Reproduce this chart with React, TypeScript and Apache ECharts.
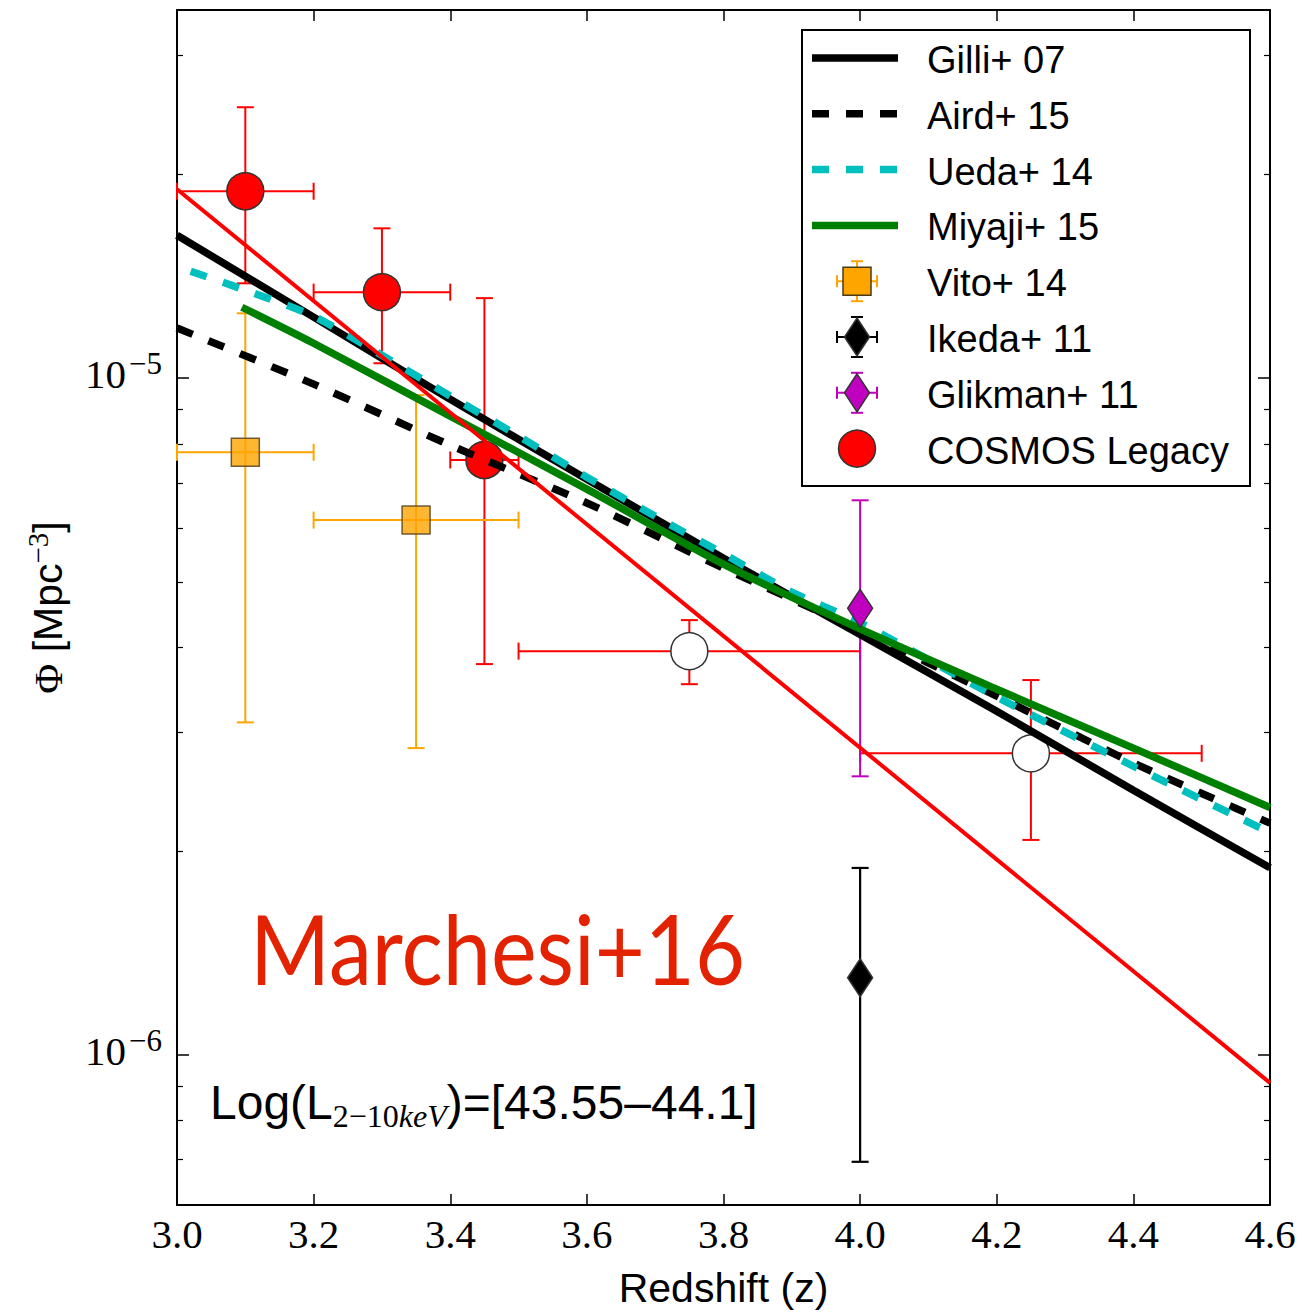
import React, { useEffect, useRef } from 'react';
import * as echarts from 'echarts';

// ---- axis ranges and ticks ----
const Z_MIN = 3.0;
const Z_MAX = 4.6;
const Z_STEP = 0.2;
const PHI_MIN = 6.0e-7;
const PHI_MAX = 3.5e-5;
const phiMajorTicks = [1e-6, 1e-5];
const phiMinorTicks = [
  7e-7, 8e-7, 9e-7,
  2e-6, 3e-6, 4e-6, 5e-6, 6e-6, 7e-6, 8e-6, 9e-6,
  2e-5, 3e-5,
];

// ---- model curves (space density vs redshift) ----
const gilliZ = [3.0, 3.2, 3.4, 3.6, 3.8, 4.0, 4.2, 4.4, 4.6];
const gilli07 = [1.626e-5, 1.231e-5, 9.31e-6, 7.09e-6, 5.42e-6, 4.18e-6, 3.22e-6, 2.46e-6, 1.89e-6];

const airdZ = [3.0, 3.2, 3.4, 3.6, 3.8, 4.0, 4.2, 4.4, 4.6];
const aird15 = [1.186e-5, 9.8e-6, 7.96e-6, 6.54e-6, 5.24e-6, 4.24e-6, 3.39e-6, 2.7e-6, 2.2e-6];

const uedaZ = [3.02, 3.1, 3.2, 3.3, 3.4, 3.5, 3.6, 3.7, 3.8, 3.9, 4.0, 4.2, 4.4, 4.6];
const ueda14 = [1.439e-5, 1.349e-5, 1.235e-5, 1.081e-5, 9.41e-6, 8.21e-6, 7.14e-6, 6.25e-6, 5.5e-6, 4.83e-6, 4.35e-6, 3.38e-6, 2.67e-6, 2.13e-6];

const miyajiZ = [3.095, 3.2, 3.4, 3.6, 3.8, 4.0, 4.2, 4.4, 4.6];
const miyaji15 = [1.273e-5, 1.126e-5, 8.79e-6, 6.855e-6, 5.31e-6, 4.26e-6, 3.47e-6, 2.84e-6, 2.32e-6];

// exponential fit to the COSMOS Legacy points
const fitZ = [3.0, 4.6];
const cosmosFit = [1.902e-5, 9.09e-7];

// ---- measurements ----
const cosmosZ = [3.1, 3.3, 3.45];
const cosmosPhi = [1.889e-5, 1.34e-5, 7.57e-6];
const cosmosZLo = [3.0, 3.2, 3.4];
const cosmosZHi = [3.2, 3.4, 3.5];
const cosmosPhiLo = [1.381e-5, 1.052e-5, 3.78e-6];
const cosmosPhiHi = [2.514e-5, 1.665e-5, 1.313e-5];

const cosmosOpenZ = [3.75, 4.25];
const cosmosOpenPhi = [3.95e-6, 2.79e-6];
const cosmosOpenZLo = [3.5, 4.0];
const cosmosOpenZHi = [4.0, 4.5];
const cosmosOpenPhiLo = [3.53e-6, 2.078e-6];
const cosmosOpenPhiHi = [4.39e-6, 3.58e-6];

const vitoZ = [3.1, 3.35];
const vitoPhi = [7.77e-6, 6.17e-6];
const vitoZLo = [3.0, 3.2];
const vitoZHi = [3.2, 3.5];
const vitoPhiLo = [3.1e-6, 2.84e-6];
const vitoPhiHi = [1.247e-5, 9.44e-6];

const ikedaZ = [4.0];
const ikedaPhi = [1.3e-6];
const ikedaPhiLo = [6.95e-7];
const ikedaPhiHi = [1.889e-6];

const glikmanZ = [4.0];
const glikmanPhi = [4.57e-6];
const glikmanPhiLo = [2.58e-6];
const glikmanPhiHi = [6.6e-6];

const legendNames = [
  'Gilli+ 07',
  'Aird+ 15',
  'Ueda+ 14',
  'Miyaji+ 15',
  'Vito+ 14',
  'Ikeda+ 11',
  'Glikman+ 11',
  'COSMOS Legacy',
];

// ---- styling ----
const RED = '#ff0000';
const ORANGE = '#ffa500';
const CYAN = '#00bfbf';
const GREEN = '#008000';
const MAGENTA = '#bf00bf';
const EDGE = '#333333';
const SERIF = '"Liberation Serif", "DejaVu Serif", serif';
const SANS = '"Liberation Sans", Arial, sans-serif';
const DASH = [17, 17];

const pairs = (xs: number[], ys: number[]) => xs.map((x, i) => [x, ys[i]]);

type Row = [number, number, number, number, number, number];

function errorRows(
  z: number[], phi: number[], zLo: number[] | null, zHi: number[] | null, lo: number[], hi: number[],
): Row[] {
  return z.map((v, i) => [v, phi[i], zLo ? zLo[i] : v, zHi ? zHi[i] : v, lo[i], hi[i]] as Row);
}

function errorBars(name: string, rows: Row[], color: string, width: number, z: number) {
  const cap = 8.5;
  return {
    type: 'custom',
    name,
    z,
    silent: true,
    xAxisIndex: 0,
    yAxisIndex: 0,
    encode: { x: [0, 2, 3], y: [1, 4, 5] },
    data: rows,
    renderItem: (_params: any, api: any) => {
      const x = api.value(0);
      const y = api.value(1);
      const xlo = api.value(2);
      const xhi = api.value(3);
      const ylo = api.value(4);
      const yhi = api.value(5);
      const style = { stroke: color, lineWidth: width };
      const children: any[] = [];
      const b = api.coord([x, ylo]);
      const t = api.coord([x, yhi]);
      children.push({ type: 'line', shape: { x1: b[0], y1: b[1], x2: t[0], y2: t[1] }, style });
      children.push({ type: 'line', shape: { x1: b[0] - cap, y1: b[1], x2: b[0] + cap, y2: b[1] }, style });
      children.push({ type: 'line', shape: { x1: t[0] - cap, y1: t[1], x2: t[0] + cap, y2: t[1] }, style });
      if (xhi > xlo) {
        const l = api.coord([xlo, y]);
        const r = api.coord([xhi, y]);
        children.push({ type: 'line', shape: { x1: l[0], y1: l[1], x2: r[0], y2: r[1] }, style });
        children.push({ type: 'line', shape: { x1: l[0], y1: l[1] - cap, x2: l[0], y2: l[1] + cap }, style });
        children.push({ type: 'line', shape: { x1: r[0], y1: r[1] - cap, x2: r[0], y2: r[1] + cap }, style });
      }
      return { type: 'group', children };
    },
  };
}

function curve(name: string, xs: number[], ys: number[], color: string, width: number, dashed: boolean, z: number) {
  return {
    type: 'line',
    name,
    z,
    silent: true,
    xAxisIndex: 0,
    yAxisIndex: 0,
    data: pairs(xs, ys),
    symbol: 'none',
    showSymbol: false,
    smooth: 0.25,
    lineStyle: { color, width, type: dashed ? DASH : 'solid', cap: 'butt' },
  };
}

function markers(name: string, xs: number[], ys: number[], symbol: string, size: any, fill: string, z: number) {
  return {
    type: 'scatter',
    name,
    z,
    silent: true,
    xAxisIndex: 0,
    yAxisIndex: 0,
    data: pairs(xs, ys),
    symbol,
    symbolSize: size,
    itemStyle: { color: fill, borderColor: EDGE, borderWidth: 1.5, opacity: 1 },
  };
}

// ---- legend box drawn with graphic elements ----
const LEG = { x: 802, y: 30, w: 448, h: 456, row0: 58, rowStep: 55.8, lineX1: 812, lineX2: 898, mx: 857, textX: 927 };

function legendGraphic() {
  const els: any[] = [];
  els.push({
    type: 'rect',
    shape: { x: LEG.x, y: LEG.y, width: LEG.w, height: LEG.h },
    style: { fill: '#fff', stroke: '#000', lineWidth: 2 },
  });
  const lineItem = (i: number, color: string, w: number, dashed: boolean) => {
    const y = LEG.row0 + i * LEG.rowStep;
    els.push({
      type: 'line',
      shape: { x1: LEG.lineX1, y1: y, x2: LEG.lineX2, y2: y },
      style: { stroke: color, lineWidth: w, lineDash: dashed ? DASH : null, lineCap: 'butt' },
    });
  };
  const errItem = (i: number, color: string) => {
    const y = LEG.row0 + i * LEG.rowStep;
    const a = 20;
    const c = 6;
    const st = { stroke: color, lineWidth: 2 };
    els.push({ type: 'line', shape: { x1: LEG.mx - a, y1: y, x2: LEG.mx + a, y2: y }, style: st });
    els.push({ type: 'line', shape: { x1: LEG.mx, y1: y - a, x2: LEG.mx, y2: y + a }, style: st });
    els.push({ type: 'line', shape: { x1: LEG.mx - a, y1: y - c, x2: LEG.mx - a, y2: y + c }, style: st });
    els.push({ type: 'line', shape: { x1: LEG.mx + a, y1: y - c, x2: LEG.mx + a, y2: y + c }, style: st });
    els.push({ type: 'line', shape: { x1: LEG.mx - c, y1: y - a, x2: LEG.mx + c, y2: y - a }, style: st });
    els.push({ type: 'line', shape: { x1: LEG.mx - c, y1: y + a, x2: LEG.mx + c, y2: y + a }, style: st });
  };
  const diamond = (i: number, fill: string) => {
    const y = LEG.row0 + i * LEG.rowStep;
    els.push({
      type: 'polygon',
      shape: { points: [[LEG.mx, y - 19], [LEG.mx + 12.5, y], [LEG.mx, y + 19], [LEG.mx - 12.5, y]] },
      style: { fill, stroke: EDGE, lineWidth: 1.5 },
    });
  };
  lineItem(0, '#000', 7.5, false);
  lineItem(1, '#000', 7.5, true);
  lineItem(2, CYAN, 7.5, true);
  lineItem(3, GREEN, 7.5, false);
  errItem(4, ORANGE);
  {
    const y = LEG.row0 + 4 * LEG.rowStep;
    els.push({
      type: 'rect',
      shape: { x: LEG.mx - 14, y: y - 14, width: 28, height: 28 },
      style: { fill: ORANGE, stroke: '#4a3a1a', lineWidth: 1.5 },
    });
  }
  errItem(5, '#000');
  diamond(5, '#000');
  errItem(6, MAGENTA);
  diamond(6, MAGENTA);
  {
    const y = LEG.row0 + 7 * LEG.rowStep;
    els.push({
      type: 'circle',
      shape: { cx: LEG.mx, cy: y, r: 18.5 },
      style: { fill: RED, stroke: EDGE, lineWidth: 1.5 },
    });
  }
  legendNames.forEach((name, i) => {
    els.push({
      type: 'text',
      x: LEG.textX,
      y: LEG.row0 + i * LEG.rowStep + 2,
      style: {
        text: name,
        fontFamily: SANS,
        fontSize: 38,
        fill: '#000',
        align: 'left',
        verticalAlign: 'middle',
      },
    });
  });
  return { type: 'group', z: 100, silent: true, children: els };
}

const supExp = (v: number) => {
  const e = Math.round(Math.log10(v));
  return `{b|10}{s|${e < 0 ? '\u2212' : ''}${Math.abs(e)}}`;
};

function buildOption() {
  const xBase = {
    type: 'value',
    min: Z_MIN,
    max: Z_MAX,
    interval: Z_STEP,
    splitLine: { show: false },
    axisLine: { show: true, onZero: false, lineStyle: { color: '#000', width: 2 } },
    axisTick: { show: true, inside: true, length: 11, lineStyle: { color: '#000', width: 1.5 } },
  };
  const yBase = {
    type: 'log',
    logBase: 10,
    min: PHI_MIN,
    max: PHI_MAX,
    splitLine: { show: false },
    minorTick: { show: false },
  };
  const majorTick = { show: true, inside: true, length: 12, customValues: phiMajorTicks, lineStyle: { color: '#000', width: 1.5 } };
  const minorTick = { show: true, inside: true, length: 6, customValues: phiMinorTicks, lineStyle: { color: '#000', width: 1.2 } };
  const frame = { show: true, onZero: false, lineStyle: { color: '#000', width: 2 } };

  return {
    animation: false,
    backgroundColor: '#fff',
    grid: { left: 177, right: 40, top: 10, bottom: 108, containLabel: false, outerBoundsMode: 'none' },
    xAxis: [
      {
        ...xBase,
        position: 'bottom',
        name: 'Redshift (z)',
        nameLocation: 'middle',
        nameGap: 62,
        nameTextStyle: { fontFamily: SANS, fontSize: 41, color: '#000' },
        axisLabel: {
          show: true,
          margin: 8,
          fontFamily: SERIF,
          fontSize: 41,
          color: '#000',
          formatter: (v: number) => v.toFixed(1),
        },
      },
      { ...xBase, position: 'top', axisLabel: { show: false } },
    ],
    yAxis: [
      {
        ...yBase,
        position: 'left',
        axisLine: frame,
        axisTick: majorTick,
        name: '{p|\u03A6} {t|[Mpc}{u|\u22123}{t|]}',
        nameLocation: 'middle',
        nameRotate: 90,
        nameGap: 104,
        nameTextStyle: {
          fontFamily: SANS,
          fontSize: 41,
          color: '#000',
          rich: {
            p: { fontFamily: SERIF, fontSize: 41, lineHeight: 50, color: '#000' },
            t: { fontFamily: SANS, fontSize: 41, lineHeight: 50, color: '#000' },
            u: { fontFamily: SERIF, fontSize: 29, lineHeight: 30, verticalAlign: 'top', color: '#000' },
          },
        },
        axisLabel: {
          show: true,
          customValues: phiMajorTicks,
          margin: 15,
          formatter: supExp,
          padding: [0, 0, 8, 0],
          rich: {
            b: { fontFamily: SERIF, fontSize: 41, lineHeight: 52, color: '#000' },
            s: { fontFamily: SERIF, fontSize: 31, lineHeight: 32, verticalAlign: 'top', color: '#000', padding: [0, 0, 0, 3] },
          },
        },
      },
      { ...yBase, position: 'left', axisLine: { show: false }, axisTick: minorTick, axisLabel: { show: false } },
      { ...yBase, position: 'right', axisLine: frame, axisTick: majorTick, axisLabel: { show: false } },
      { ...yBase, position: 'right', axisLine: { show: false }, axisTick: minorTick, axisLabel: { show: false } },
    ],
    graphic: [
      {
        type: 'text',
        x: 250,
        y: 948,
        scaleX: 0.9,
        silent: true,
        style: {
          text: 'Marchesi+16',
          fontFamily: 'Lato, "Open Sans", sans-serif',
          fontSize: 96,
          fill: '#e22200',
          align: 'left',
          verticalAlign: 'middle',
        },
      },
      {
        type: 'text',
        x: 210,
        y: 1102,
        silent: true,
        style: {
          text: '{n|Log(L}{s|2\u221210}{i|keV}{n|)=[43.55\u201344.1]}',
          fontFamily: SANS,
          fontSize: 48,
          fill: '#000',
          align: 'left',
          verticalAlign: 'middle',
          rich: {
            n: { fontFamily: SANS, fontSize: 48, lineHeight: 60, fill: '#000' },
            s: { fontFamily: SERIF, fontSize: 32, lineHeight: 35, verticalAlign: 'bottom', fill: '#000' },
            i: { fontFamily: SERIF, fontSize: 32, lineHeight: 35, verticalAlign: 'bottom', fontStyle: 'italic', fill: '#000' },
          },
        },
      },
      legendGraphic(),
    ],
    series: [
      // COSMOS Legacy bins
      errorBars('COSMOS Legacy', errorRows(cosmosZ, cosmosPhi, cosmosZLo, cosmosZHi, cosmosPhiLo, cosmosPhiHi), RED, 2, 2),
      errorBars('COSMOS Legacy (open)', errorRows(cosmosOpenZ, cosmosOpenPhi, cosmosOpenZLo, cosmosOpenZHi, cosmosOpenPhiLo, cosmosOpenPhiHi), RED, 2, 2),
      errorBars('Vito+ 14', errorRows(vitoZ, vitoPhi, vitoZLo, vitoZHi, vitoPhiLo, vitoPhiHi), ORANGE, 2, 2),
      errorBars('Ikeda+ 11', errorRows(ikedaZ, ikedaPhi, null, null, ikedaPhiLo, ikedaPhiHi), '#000', 2.2, 2),
      errorBars('Glikman+ 11', errorRows(glikmanZ, glikmanPhi, null, null, glikmanPhiLo, glikmanPhiHi), MAGENTA, 2, 2),
      markers('COSMOS Legacy', cosmosZ, cosmosPhi, 'circle', 37, RED, 3),
      markers('COSMOS Legacy (open)', cosmosOpenZ, cosmosOpenPhi, 'circle', 37, '#ffffff', 3),
      {
        ...markers('Vito+ 14', vitoZ, vitoPhi, 'rect', 28, ORANGE, 3),
        itemStyle: { color: ORANGE, borderColor: '#4a3a1a', borderWidth: 1.5 },
      },
      // model curves
      curve('Gilli+ 07', gilliZ, gilli07, '#000', 7.5, false, 4),
      curve('Aird+ 15', airdZ, aird15, '#000', 7.5, true, 4),
      curve('Ueda+ 14', uedaZ, ueda14, CYAN, 7.5, true, 4),
      curve('Miyaji+ 15', miyajiZ, miyaji15, GREEN, 7.5, false, 4),
      curve('COSMOS fit', fitZ, cosmosFit, RED, 4, false, 4),
      markers('Ikeda+ 11', ikedaZ, ikedaPhi, 'diamond', [25, 38], '#000', 5),
      markers('Glikman+ 11', glikmanZ, glikmanPhi, 'diamond', [25, 38], MAGENTA, 5),
    ],
  };
}

export default function App() {
  const ref = useRef<HTMLDivElement>(null);
  useEffect(() => {
    if (!ref.current) return;
    const chart = echarts.init(ref.current, null, { renderer: 'svg' });
    chart.setOption(buildOption() as any);
    return () => chart.dispose();
  }, []);
  return (
    <div
      ref={ref}
      style={{ position: 'absolute', left: 0, top: 0, width: 1310, height: 1313, background: '#fff' }}
    />
  );
}
